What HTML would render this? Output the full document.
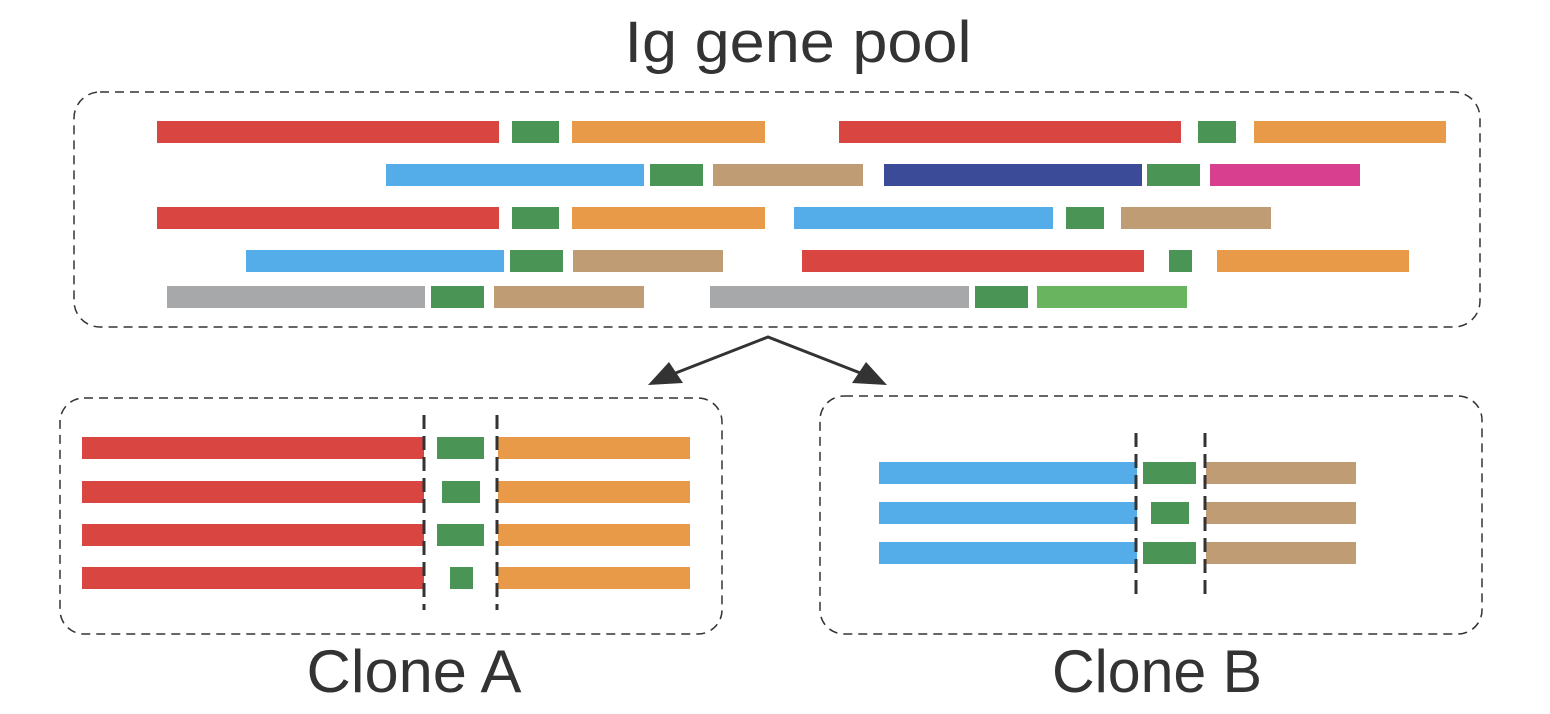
<!DOCTYPE html>
<html><head><style>body{margin:0;background:#fff}svg{display:block}</style></head><body>
<svg width="1550" height="714" viewBox="0 0 1550 714" xmlns="http://www.w3.org/2000/svg">
<g font-family="Liberation Sans, sans-serif" fill="#333" text-anchor="middle">
<text x="798" y="62" font-size="58" textLength="347" lengthAdjust="spacingAndGlyphs">Ig gene pool</text>
<text x="414" y="692" font-size="60" textLength="215" lengthAdjust="spacingAndGlyphs">Clone A</text>
<text x="1157" y="692" font-size="60" textLength="210" lengthAdjust="spacingAndGlyphs">Clone B</text>
</g>
<g fill="none" stroke="#333" stroke-width="1.5" stroke-dasharray="9,6">
<rect x="74" y="92" width="1406" height="235" rx="26"/>
<rect x="60" y="398" width="662" height="236" rx="24"/>
<rect x="820" y="396" width="662" height="238" rx="24"/>
</g>
<g stroke="#333" stroke-width="3" fill="none">
<polyline points="668,376 768,337 868,376"/>
</g>
<polygon points="648,385 683,383 669,362" fill="#333"/>
<polygon points="887,385 852,383 866,362" fill="#333"/>
<g>
<rect x="157" y="121" width="342" height="22" fill="#d94541"/>
<rect x="512" y="121" width="47" height="22" fill="#4a9455"/>
<rect x="572" y="121" width="193" height="22" fill="#e89a49"/>
<rect x="839" y="121" width="342" height="22" fill="#d94541"/>
<rect x="1198" y="121" width="38" height="22" fill="#4a9455"/>
<rect x="1254" y="121" width="192" height="22" fill="#e89a49"/>
<rect x="386" y="164" width="258" height="22" fill="#54ade8"/>
<rect x="650" y="164" width="53" height="22" fill="#4a9455"/>
<rect x="713" y="164" width="150" height="22" fill="#c09c75"/>
<rect x="884" y="164" width="258" height="22" fill="#3b4b98"/>
<rect x="1147" y="164" width="53" height="22" fill="#4a9455"/>
<rect x="1210" y="164" width="150" height="22" fill="#d83f8e"/>
<rect x="157" y="207" width="342" height="22" fill="#d94541"/>
<rect x="512" y="207" width="47" height="22" fill="#4a9455"/>
<rect x="572" y="207" width="193" height="22" fill="#e89a49"/>
<rect x="794" y="207" width="259" height="22" fill="#54ade8"/>
<rect x="1066" y="207" width="38" height="22" fill="#4a9455"/>
<rect x="1121" y="207" width="150" height="22" fill="#c09c75"/>
<rect x="246" y="250" width="258" height="22" fill="#54ade8"/>
<rect x="510" y="250" width="53" height="22" fill="#4a9455"/>
<rect x="573" y="250" width="150" height="22" fill="#c09c75"/>
<rect x="802" y="250" width="342" height="22" fill="#d94541"/>
<rect x="1169" y="250" width="23" height="22" fill="#4a9455"/>
<rect x="1217" y="250" width="192" height="22" fill="#e89a49"/>
<rect x="167" y="286" width="258" height="22" fill="#a7a8aa"/>
<rect x="431" y="286" width="53" height="22" fill="#4a9455"/>
<rect x="494" y="286" width="150" height="22" fill="#c09c75"/>
<rect x="710" y="286" width="259" height="22" fill="#a7a8aa"/>
<rect x="975" y="286" width="53" height="22" fill="#4a9455"/>
<rect x="1037" y="286" width="150" height="22" fill="#69b45e"/>
<rect x="82" y="437" width="342" height="22" fill="#d94541"/>
<rect x="437" y="437" width="47" height="22" fill="#4a9455"/>
<rect x="498" y="437" width="192" height="22" fill="#e89a49"/>
<rect x="82" y="481" width="342" height="22" fill="#d94541"/>
<rect x="442" y="481" width="38" height="22" fill="#4a9455"/>
<rect x="498" y="481" width="192" height="22" fill="#e89a49"/>
<rect x="82" y="524" width="342" height="22" fill="#d94541"/>
<rect x="437" y="524" width="47" height="22" fill="#4a9455"/>
<rect x="498" y="524" width="192" height="22" fill="#e89a49"/>
<rect x="82" y="567" width="342" height="22" fill="#d94541"/>
<rect x="450" y="567" width="23" height="22" fill="#4a9455"/>
<rect x="498" y="567" width="192" height="22" fill="#e89a49"/>
<rect x="879" y="462" width="258" height="22" fill="#54ade8"/>
<rect x="1143" y="462" width="53" height="22" fill="#4a9455"/>
<rect x="1206" y="462" width="150" height="22" fill="#c09c75"/>
<rect x="879" y="502" width="258" height="22" fill="#54ade8"/>
<rect x="1151" y="502" width="38" height="22" fill="#4a9455"/>
<rect x="1206" y="502" width="150" height="22" fill="#c09c75"/>
<rect x="879" y="542" width="258" height="22" fill="#54ade8"/>
<rect x="1143" y="542" width="53" height="22" fill="#4a9455"/>
<rect x="1206" y="542" width="150" height="22" fill="#c09c75"/>
</g>
<g stroke="#333" stroke-width="3" stroke-dasharray="14,7">
<line x1="424" y1="415" x2="424" y2="610"/>
<line x1="497" y1="415" x2="497" y2="610"/>
<line x1="1136" y1="433" x2="1136" y2="596"/>
<line x1="1205" y1="433" x2="1205" y2="596"/>
</g>
</svg>
</body></html>
